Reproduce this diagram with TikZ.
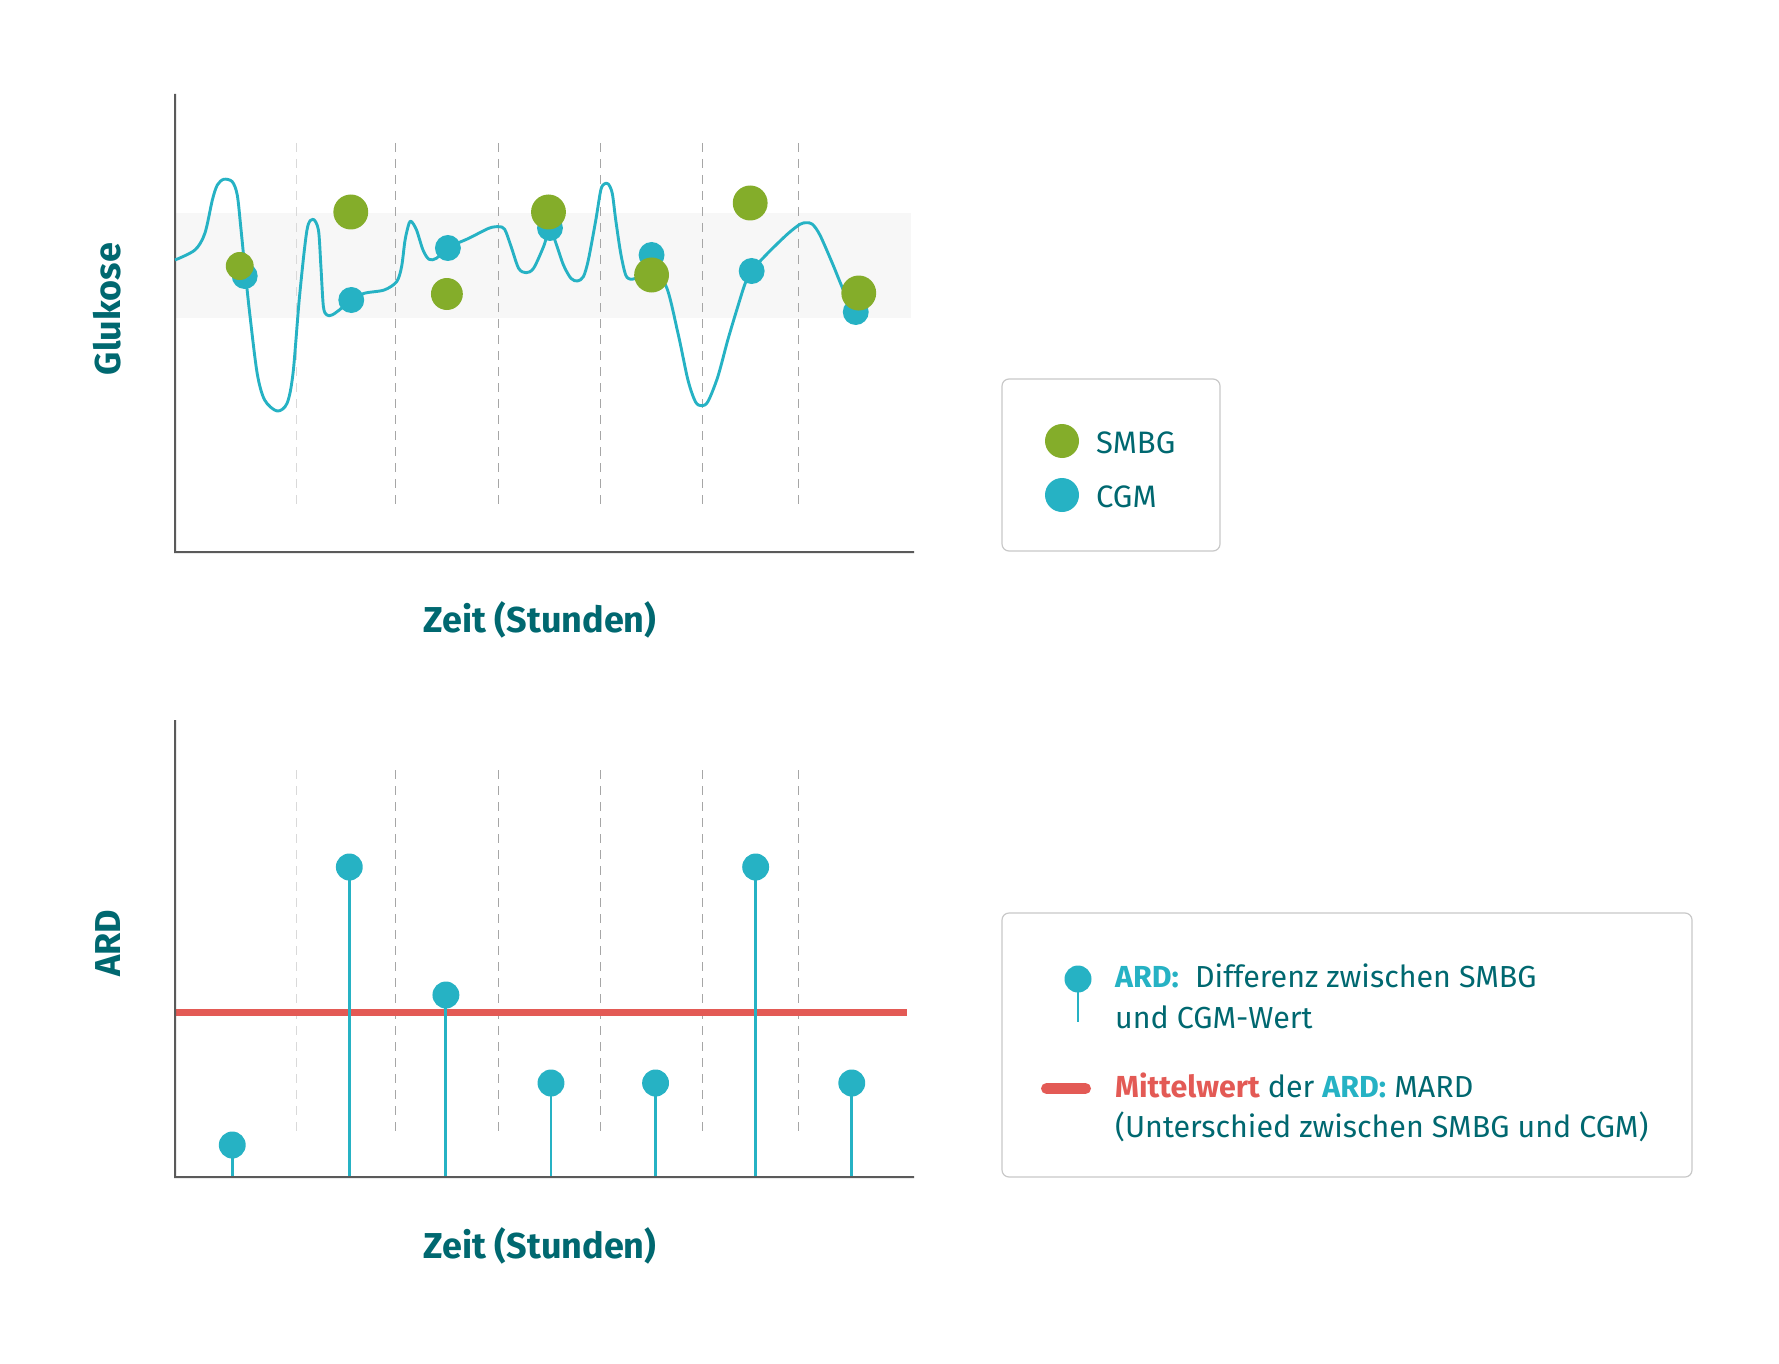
\documentclass[tikz,border=0pt]{standalone}
\usepackage{fontspec}
\setmainfont{Fira Sans}
\usetikzlibrary{positioning}
\definecolor{tealtext}{RGB}{0,104,112}
\definecolor{cgmblue}{RGB}{38,178,196}
\definecolor{smbggreen}{RGB}{132,173,42}
\definecolor{mardred}{RGB}{227,90,85}
\definecolor{bandgray}{RGB}{247,247,247}
\definecolor{axisgray}{RGB}{90,90,90}
\definecolor{boxgray}{RGB}{200,200,200}

\begin{document}
\begin{tikzpicture}[x=1pt, y=-1pt,
    axis/.style={draw=axisgray, line width=2pt},
    grid/.style={draw=gray!70, line width=1pt, dash pattern=on 9pt off 7pt},
    gridlight/.style={grid, draw=gray!30},
    curve/.style={draw=cgmblue, line width=2.9pt, line join=round},
    stem/.style={draw=cgmblue, line width=2.9pt},
    legendbox/.style={draw=boxgray, line width=1.2pt, rounded corners=7pt},
    axislabel/.style={text=tealtext, inner sep=0pt, font=\fontsize{36}{42}\selectfont\bfseries},
    legendtext/.style={text=tealtext, anchor=base west, inner sep=0pt, font=\fontsize{31}{37}\selectfont},
    ardtext/.style={legendtext, font=\fontsize{30.4}{36}\selectfont}]
        \useasboundingbox (0,0) rectangle (1779,1364);

        % upper chart: glucose
        \begin{scope}[xshift=0.7pt, xscale=0.996]
        \coordinate (o1) at (175,552);
        \fill[bandgray] (175,213) rectangle (914,318);
        \draw[gridlight] (296.5,143) -- (296.5,506);
        \foreach \x in {396,500,602,705,801}
            \draw[grid] (\x,143) -- (\x,506);
        \draw[axis] (175,94) -- (o1) -- (917,552);

        \draw[curve] plot[smooth, tension=0.5] coordinates {
            (175,260) (195,250) (205,233.3) (212.5,200) (217.5,185) (224,179.3)
            (232.5,181.7) (237.5,195) (241,226.7) (245,266.7) (250,313.3)
            (257.5,373.3) (265,400) (277.5,411) (287.5,403.3) (293.5,373.3)
            (300,296.7) (307.5,230) (313.5,219.3) (319,230) (321.5,266.7)
            (324,306.7) (327.5,315) (332.5,315) (340,310) (351.5,300)
            (365,293.3) (385,290) (397.5,281.7) (402.5,266.7) (406,240)
            (410,223.3) (412.5,221.7) (417.5,230) (424,250) (430,259.3)
            (437.5,258.3) (449,247.7) (470,238.3) (490,228.3) (500,226.7)
            (506,229.3) (512.5,246.7) (520,268.3) (527.5,272.7) (535,268.3)
            (545,246.7) (551.5,228.3) (557.5,243.3) (565,265) (572.5,278.3)
            (579,281) (585,276.7) (590,260) (597.5,220) (602.5,190) (606,184)
            (610,184) (614,193.3) (617.5,220) (622.5,253.3) (627.5,275)
            (632.5,279.3) (637.5,278.3) (650,276.7) (667.5,285) (680,333.3)
            (690,380) (697.5,401.7) (703.5,405.7) (710,401.7) (720,376.7)
            (730,340) (740,306.7) (747.5,283.3) (754,270.7) (770,253.3)
            (790,234) (802.5,224.3) (809,222.7) (815,224.3) (822.5,235)
            (835,263.3) (847.5,293.3) (858.5,312.3)};

        \coordinate (c1) at (245,276);
        \coordinate (c2) at (352,300);
        \coordinate (c3) at (449,248);
        \coordinate (c4) at (551.5,228);
        \coordinate (c5) at (653.5,255);
        \coordinate (c6) at (754,271);
        \coordinate (c7) at (858.5,312);
        \foreach \i in {1,...,7}
            \fill[cgmblue] (c\i) circle (13);

        \coordinate (s1) at (240,266);
        \coordinate (s2) at (351.5,212);
        \coordinate (s3) at (448,294);
        \coordinate (s4) at (550,212);
        \coordinate (s5) at (653.5,275);
        \coordinate (s6) at (752.5,203);
        \coordinate (s7) at (861.5,293);
        \fill[smbggreen] (s1) circle (14);
        \fill[smbggreen] (s3) circle (16);
        \foreach \i in {2,4,5,6,7}
            \fill[smbggreen] (s\i) circle (17.5);
        \end{scope}

        \node[axislabel, rotate=90, anchor=base] (glukose) at (120,309) {Glukose};
        \node[axislabel, anchor=base] (zeit1) at (540,632) {Zeit (Stunden)};

        % legend of the upper chart
        \draw[legendbox] (1002,379) rectangle (1220,551);
        \fill[smbggreen] (1062,441) circle (17);
        \fill[cgmblue] (1062,495) circle (17);
        \node[legendtext] (smbg) at (1096,453) {SMBG};
        \node[legendtext] (cgm) at (1096,507) {CGM};

        % lower chart: ARD
        \begin{scope}[xshift=0.7pt, xscale=0.996]
        \coordinate (o2) at (175,1177);
        \draw[gridlight] (296.5,770) -- (296.5,1132);
        \foreach \x in {396,500,602,705,801}
            \draw[grid] (\x,770) -- (\x,1132);
        \draw[mardred, line width=7pt] (175,1012) -- (910,1012);

        \coordinate (a1) at (232.5,1145);
        \coordinate (a2) at (350,867);
        \coordinate (a3) at (447,995);
        \coordinate (a4) at (552.5,1083);
        \coordinate (a5) at (657.5,1083);
        \coordinate (a6) at (758,867);
        \coordinate (a7) at (854.5,1083);
        \foreach \i in {1,...,7} {
            \draw[stem] (a\i) -- (a\i |- o2);
            \fill[cgmblue] (a\i) circle (13.5);
        }
        \draw[axis] (175,720) -- (o2) -- (917,1177);
        \end{scope}

        \node[axislabel, rotate=90, anchor=base] (ard) at (120,943) {ARD};
        \node[axislabel, anchor=base] (zeit2) at (540,1258.5) {Zeit (Stunden)};

        % legend of the lower chart
        \draw[legendbox] (1002,913) rectangle (1692,1177);
        \coordinate (pin) at (1078,979);
        \draw[stem] (pin) -- (1078,1022);
        \fill[cgmblue] (pin) circle (13.5);
        \draw[mardred, line width=11pt, line cap=round] (1046.5,1088.5) -- (1085.5,1088.5);
        \node[ardtext] (ard1) at (1115,987) {{\color{cgmblue}\bfseries ARD:}\ \ Differenz zwischen SMBG};
        \node[ardtext] (ard2) at (1115,1028) {und CGM-Wert};
        \node[ardtext] (mard1) at (1115,1097) {{\color{mardred}\bfseries Mittelwert} der {\color{cgmblue}\bfseries ARD:} MARD};
        \node[ardtext] (mard2) at (1115,1137) {(Unterschied zwischen SMBG und CGM)};
\end{tikzpicture}
\end{document}
